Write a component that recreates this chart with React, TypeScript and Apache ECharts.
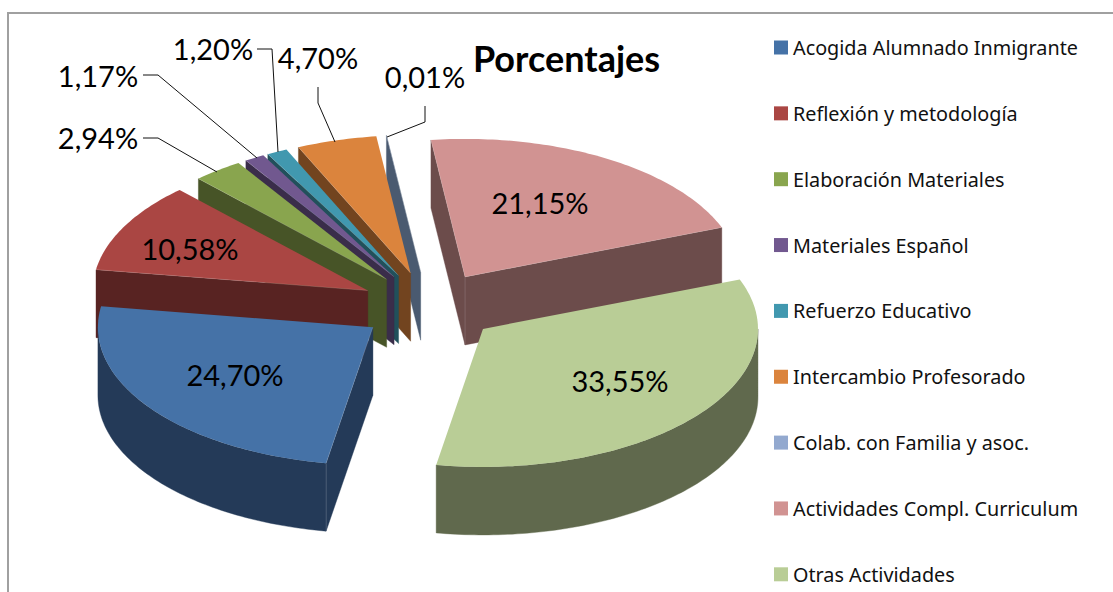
import React, { useEffect, useRef } from "react";
import * as echarts from "echarts";

const categories = [
  "Acogida Alumnado Inmigrante",
  "Reflexión y metodología",
  "Elaboración Materiales",
  "Materiales Español",
  "Refuerzo Educativo",
  "Intercambio Profesorado",
  "Colab. con Familia y asoc.",
  "Actividades Compl. Curriculum",
  "Otras Actividades",
];
const percentages = [24.7, 10.58, 2.94, 1.17, 1.2, 4.7, 0.01, 21.15, 33.55];
const topColors = ["#4572A7", "#AA4643", "#89A54E", "#71588F", "#4198AF", "#DB843D", "#93A9CF", "#D19392", "#B9CD96"];
const wallColors = ["#243A58", "#582322", "#475427", "#3A2D4A", "#21505B", "#72441F", "#4A5A70", "#6C4C4B", "#60694D"];

const pie = { cx: 429.3, cy: 306.8, a: 275, b: 138, depth: 68, explode: 0.2526, firstAngle: 189.8 };

const labelSpots: [number, number][] = [
  [235, 374], [190, 248], [98, 137], [98, 75], [213, 48], [318, 57], [425, 76], [540, 202], [620, 380],
];
const leaders: ([number, number][] | null)[] = [
  null, null,
  [[143, 138], [158, 138], [217, 172]],
  [[143, 75], [158, 75], [257, 158]],
  [[257, 49], [272, 49], [278, 152]],
  [[318, 87], [318, 103], [335, 142]],
  [[425, 106], [425, 122], [387, 137]],
  null, null,
];

const dir = (deg: number): [number, number] => {
  const t = (deg * Math.PI) / 180;
  return [pie.a * Math.sin(t), -pie.b * Math.cos(t)];
};

const total = percentages.reduce((s, v) => s + v, 0);
const spans = (() => {
  let run = pie.firstAngle;
  return percentages.map((v) => {
    const from = run;
    run += (v / total) * 360;
    return { from, to: run, mid: (from + run) / 2 };
  });
})();

// back-to-front painting order
const paintOrder = categories
  .map((_, i) => i)
  .sort((p, q) => Math.cos((spans[q].mid * Math.PI) / 180) - Math.cos((spans[p].mid * Math.PI) / 180));

const arcPoints = (from: number, to: number, ox: number, oy: number) => {
  const n = Math.max(2, Math.ceil(Math.abs(to - from)));
  const pts: [number, number][] = [];
  for (let k = 0; k <= n; k++) {
    const d = dir(from + ((to - from) * k) / n);
    pts.push([ox + d[0], oy + d[1]]);
  }
  return pts;
};

const edgeStyle = { stroke: "rgba(255,255,255,0.18)", lineWidth: 0.8, fill: "none" };

const makeRender = (i: number) => (_params: any, api: any) => {
  const value = api.value(0) as number;
  const from = spans[i].from;
  const to = from + (value / total) * 360;
  const mid = (from + to) / 2;
  const m = dir(mid);
  const ox = pie.cx + pie.explode * m[0];
  const oy = pie.cy + pie.explode * m[1];
  const children: any[] = [];
  const edges: any[] = [];
  const wall = wallColors[i];
  const wallStyle = { fill: wall, stroke: wall, lineWidth: 0.4 };
  const seam = (x: number, y: number) =>
    edges.push({ type: "line", shape: { x1: x, y1: y, x2: x, y2: y + pie.depth }, style: edgeStyle });

  const seen: boolean[] = [];
  const radial = (angle: number) => {
    const e = dir(angle);
    const cross = e[0] * m[1] - e[1] * m[0];
    const sideCross = angle === from ? Math.abs(cross) : -Math.abs(cross);
    const visible = sideCross * e[0] < 0;
    seen.push(visible);
    if (!visible) return;
    children.push({
      type: "polygon",
      shape: {
        points: [
          [ox, oy],
          [ox + e[0], oy + e[1]],
          [ox + e[0], oy + e[1] + pie.depth],
          [ox, oy + pie.depth],
        ],
      },
      style: wallStyle,
    });
    edges.push({
      type: "line",
      shape: { x1: ox, y1: oy, x2: ox + e[0], y2: oy + e[1] },
      style: edgeStyle,
    });
  };
  radial(from);
  radial(to);
  if (seen[0] && seen[1]) seam(ox, oy);

  for (const shift of [0, 360]) {
    const s = Math.max(from, 90 + shift);
    const t = Math.min(to, 270 + shift);
    if (t > s) {
      const upper = arcPoints(s, t, ox, oy);
      const lower = arcPoints(t, s, ox, oy + pie.depth);
      children.push({ type: "polygon", shape: { points: [...upper, ...lower] }, style: wallStyle });
      if (s === from && seen[0]) {
        const d = dir(from);
        seam(ox + d[0], oy + d[1]);
      }
    }
  }

  children.push({
    type: "polygon",
    shape: { points: [[ox, oy], ...arcPoints(from, to, ox, oy)] },
    style: { fill: topColors[i] },
  });
  return { type: "group", children: [...children, ...edges] };
};

const fmt = (v: number) => v.toFixed(2).replace(".", ",") + "%";

export default function App() {
  const ref = useRef<HTMLDivElement>(null);
  useEffect(() => {
    const chart = echarts.init(ref.current!, undefined, { renderer: "svg" });
    chart.setOption({
      animation: false,
      backgroundColor: "#ffffff",
      legend: {
        orient: "vertical",
        left: 774,
        top: 37.5,
        padding: 0,
        itemWidth: 14,
        itemHeight: 14,
        itemGap: 45.85,
        icon: "rect",
        selectedMode: false,
        data: categories,
        textStyle: { fontFamily: "Noto Sans", fontSize: 19.8, color: "#111111" },
      },
      xAxis: { show: false },
      yAxis: { show: false },
      series: paintOrder.map((i) => ({
        type: "custom",
        name: categories[i],
        coordinateSystem: "none",
        silent: true,
        itemStyle: { color: topColors[i] },
        renderItem: makeRender(i),
        data: [[percentages[i]]],
      })),
      graphic: [
        { type: "rect", z: 0, silent: true, shape: { x: 8, y: 13, width: 1200, height: 700 }, style: { fill: "none", stroke: "#A0A0A0", lineWidth: 2 } },
        {
          type: "text",
          z: 50,
          x: 566.5,
          y: 58,
          style: { text: "Porcentajes", font: "bold 36px Lato", fill: "#000", textAlign: "center", textVerticalAlign: "middle" },
        },
        ...percentages.map((v, i) => ({
          type: "text",
          z: 50,
          x: labelSpots[i][0],
          y: labelSpots[i][1],
          style: { text: fmt(v), font: "29px Lato", fill: "#000", textAlign: "center", textVerticalAlign: "middle" },
        })),
        ...leaders.flatMap((pts) =>
          pts
            ? [{ type: "polyline", z: 40, silent: true, shape: { points: pts }, style: { stroke: "#111", lineWidth: 1, fill: "none" } }]
            : []
        ),
      ],
    });
    return () => chart.dispose();
  }, []);
  return <div ref={ref} style={{ position: "fixed", left: 0, top: 0, width: 1113, height: 592 }} />;
}
